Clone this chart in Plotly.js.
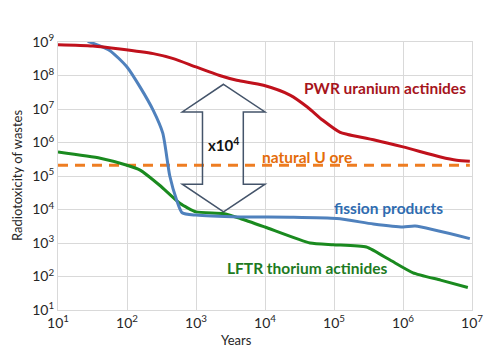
<!DOCTYPE html>
<html>
<head>
<meta charset="utf-8">
<script src="https://cdn.plot.ly/plotly-3.0.1.min.js"></script>
<style>html,body{margin:0;padding:0;background:#fff;}#chart{width:497px;height:358px;}</style>
</head>
<body>
<div id="chart"></div>
<script>
// Years and radiotoxicity values
var pwrYears = [10, 32, 79, 240, 470, 1000, 2200, 3900, 9500, 23000, 41000, 69000, 123000, 158000, 400000, 1000000, 3500000, 6000000, 9300000];
var pwrTox   = [8.3e8, 7.6e8, 6.2e8, 4.5e8, 3.2e8, 1.8e8, 1.0e8, 7.2e7, 5.1e7, 2.6e7, 1.15e7, 4.6e6, 2.0e6, 1.74e6, 1.17e6, 7.4e5, 3.7e5, 2.95e5, 2.75e5];

var fpYears = [27, 56, 100, 155, 240, 330, 417, 525, 630, 1000, 4400, 23000, 110000, 370000, 1000000, 1500000, 9300000];
var fpTox   = [1.05e9, 5.6e8, 1.8e8, 4.5e7, 9.1e6, 1.9e6, 1.0e5, 1.9e4, 8000, 6800, 6000, 5900, 5400, 3700, 3000, 3200, 1350];

var lftrYears = [10, 41, 100, 155, 300, 590, 1000, 2500, 4400, 10000, 45000, 98000, 295000, 650000, 1400000, 3500000, 8700000];
var lftrTox   = [5.2e5, 3.4e5, 2.1e5, 1.5e5, 5.2e4, 1.5e4, 8500, 7600, 5400, 3000, 1000, 890, 760, 310, 129, 78, 47];

var oreYears = [10, 9300000];
var oreTox   = [2.1e5, 2.1e5];

var tickVals = [10, 100, 1000, 10000, 100000, 1000000, 10000000];
var tickText = ['10<sup>1</sup>', '10<sup>2</sup>', '10<sup>3</sup>', '10<sup>4</sup>', '10<sup>5</sup>', '10<sup>6</sup>', '10<sup>7</sup>'];
var yTickVals = [10, 100, 1000, 10000, 100000, 1000000, 10000000, 100000000, 1000000000];
var yTickText = ['10<sup>1</sup>', '10<sup>2</sup>', '10<sup>3</sup>', '10<sup>4</sup>', '10<sup>5</sup>', '10<sup>6</sup>', '10<sup>7</sup>', '10<sup>8</sup>', '10<sup>9</sup>'];

var FONT = 'Lato, "Open Sans", sans-serif';

var traces = [
  {x: oreYears, y: oreTox, mode: 'lines', line: {color: '#EE7D22', width: 3, dash: '10px,7px'}},
  {x: lftrYears, y: lftrTox, mode: 'lines', line: {color: '#1A8A1F', width: 3, shape: 'spline', smoothing: 0.5}},
  {x: fpYears, y: fpTox, mode: 'lines', line: {color: '#4F81BD', width: 3, shape: 'spline', smoothing: 0.6}},
  {x: pwrYears, y: pwrTox, mode: 'lines', line: {color: '#C0111C', width: 3, shape: 'spline', smoothing: 0.7}}
];

function px(v){ return ((v - 58) / 414).toFixed(4); }
function py(v){ return ((310 - v) / 268.3).toFixed(4); }
var arrowPts = [[223.5,84],[265,111.7],[243.3,111.7],[243.3,184],[265,184],[223.5,211.7],[182.3,184],[202.5,184],[202.5,111.7],[182.3,111.7]];
var path = 'M ' + arrowPts.map(function(p){ return px(p[0]) + ',' + py(p[1]); }).join(' L ') + ' Z';

var layout = {
  width: 497, height: 358,
  margin: {l: 58, r: 25, t: 42, b: 48},
  paper_bgcolor: '#ffffff', plot_bgcolor: '#ffffff',
  showlegend: false,
  font: {family: FONT, size: 14, color: '#262626'},
  xaxis: {
    type: 'log', range: [1, 7], tickvals: tickVals, ticktext: tickText,
    showgrid: true, gridcolor: '#d9d9d9', gridwidth: 1,
    showline: true, mirror: true, linecolor: '#d9d9d9', linewidth: 1,
    ticks: '', tickfont: {family: FONT, size: 14, color: '#262626'}, fixedrange: true
  },
  yaxis: {
    type: 'log', range: [1, 9], tickvals: yTickVals, ticktext: yTickText,
    showgrid: true, gridcolor: '#d9d9d9', gridwidth: 1,
    showline: true, mirror: true, linecolor: '#d9d9d9', linewidth: 1,
    ticks: '', tickfont: {family: FONT, size: 14, color: '#262626'}, fixedrange: true
  },
  shapes: [
    {type: 'path', xref: 'paper', yref: 'paper', path: path, line: {color: '#44546A', width: 1.5}, fillcolor: 'rgba(0,0,0,0)', layer: 'above'}
  ],
  annotations: [
    {text: 'Radiotoxicity of wastes', xref: 'paper', yref: 'paper', x: -0.099, y: 0.5, textangle: -90, showarrow: false, xanchor: 'center', yanchor: 'middle', font: {family: FONT, size: 13, color: '#262626'}},
    {text: 'Years', xref: 'paper', yref: 'paper', x: 0.432, y: -0.112, showarrow: false, xanchor: 'center', yanchor: 'middle', font: {family: FONT, size: 13, color: '#262626'}},
    {text: '<b>PWR uranium actinides</b>', xref: 'paper', yref: 'paper', x: 0.791, y: 0.827, showarrow: false, xanchor: 'center', yanchor: 'middle', font: {family: FONT, size: 15.5, color: '#A6141C'}},
    {text: '<b>natural U ore</b>', xref: 'paper', yref: 'paper', x: 0.601, y: 0.570, showarrow: false, xanchor: 'center', yanchor: 'middle', font: {family: FONT, size: 15.5, color: '#E46C0A'}},
    {text: '<b>fission products</b>', xref: 'paper', yref: 'paper', x: 0.798, y: 0.380, showarrow: false, xanchor: 'center', yanchor: 'middle', font: {family: FONT, size: 15.5, color: '#2F6CB0'}},
    {text: '<b>LFTR thorium actinides</b>', xref: 'paper', yref: 'paper', x: 0.603, y: 0.157, showarrow: false, xanchor: 'center', yanchor: 'middle', font: {family: FONT, size: 15.5, color: '#1D7A22'}},
    {text: '<b>x10<sup>4</sup></b>', xref: 'paper', yref: 'paper', x: 0.399, y: 0.619, showarrow: false, xanchor: 'center', yanchor: 'middle', font: {family: FONT, size: 15, color: '#111111'}}
  ]
};

Plotly.newPlot('chart', traces, layout, {displayModeBar: false, staticPlot: true});
</script>
</body>
</html>
